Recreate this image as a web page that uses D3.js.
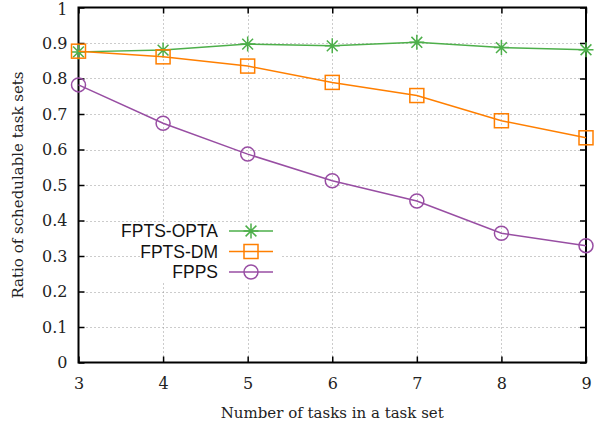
<!DOCTYPE html>
<html>
<head>
<meta charset="utf-8">
<script src="https://cdn.jsdelivr.net/npm/d3@7"></script>
<style>
  body { margin: 0; background: #fff; }
  svg { display: block; }
</style>
</head>
<body>
<svg width="594" height="430"></svg>
<script>
const tasks = [3, 4, 5, 6, 7, 8, 9];
const fptsOpta = [0.875, 0.880, 0.897, 0.892, 0.902, 0.887, 0.881];
const fptsDm = [0.877, 0.861, 0.835, 0.789, 0.752, 0.681, 0.633];
const fpps = [0.782, 0.674, 0.587, 0.512, 0.455, 0.364, 0.329];
const yTicks = [0, 0.1, 0.2, 0.3, 0.4, 0.5, 0.6, 0.7, 0.8, 0.9, 1];
const seriesNames = ["FPTS-OPTA", "FPTS-DM", "FPPS"];

const series = [
    { name: seriesNames[0], values: fptsOpta, color: "#4daf4a", marker: "star" },
    { name: seriesNames[1], values: fptsDm, color: "#ff7f00", marker: "square" },
    { name: seriesNames[2], values: fpps, color: "#984ea3", marker: "circle" }
];

const svg = d3.select("svg");
const area = { left: 78.5, right: 586, top: 7.5, bottom: 362.5 };
const serif = "'DejaVu Serif', serif";

const scX = d3.scaleLinear().domain([3, 9]).range([area.left, area.right]);
const scY = d3.scaleLinear().domain([0, 1]).range([area.bottom, area.top]);

// grid
const grid = svg.append("g").attr("stroke", "#999").attr("stroke-width", 1)
    .attr("stroke-dasharray", "1,3");
grid.selectAll(".gy").data(yTicks.slice(1, -1)).enter().append("line")
    .attr("x1", area.left).attr("x2", area.right)
    .attr("y1", d => Math.round(scY(d)) + 0.5).attr("y2", d => Math.round(scY(d)) + 0.5);
grid.selectAll(".gx").data(tasks.slice(1, -1)).enter().append("line")
    .attr("y1", area.top).attr("y2", area.bottom)
    .attr("x1", d => Math.round(scX(d)) + 0.5).attr("x2", d => Math.round(scX(d)) + 0.5);

// axes with inward ticks, mirrored
const tickLen = 6;
const axisLeft = svg.append("g").attr("transform", `translate(${area.left},0)`)
    .call(d3.axisLeft(scY).tickValues(yTicks).tickSize(-tickLen).tickPadding(11)
        .tickFormat(d => d === 0 || d === 1 ? d3.format("d")(d) : d3.format(".1f")(d)));
const axisRight = svg.append("g").attr("transform", `translate(${area.right},0)`)
    .call(d3.axisRight(scY).tickValues(yTicks).tickSize(-tickLen).tickFormat(""));
const axisBottom = svg.append("g").attr("transform", `translate(0,${area.bottom})`)
    .call(d3.axisBottom(scX).tickValues(tasks).tickSize(-tickLen).tickPadding(15)
        .tickFormat(d3.format("d")));
const axisTop = svg.append("g").attr("transform", `translate(0,${area.top})`)
    .call(d3.axisTop(scX).tickValues(tasks).tickSize(-tickLen).tickFormat(""));

[axisLeft, axisRight, axisBottom, axisTop].forEach(g => {
    g.attr("font-family", null).attr("font-size", null);
    g.select(".domain").remove();
    g.selectAll(".tick line").attr("stroke", "#000").attr("stroke-width", 1.5);
    g.selectAll("text").attr("fill", "#222").style("font-family", serif).style("font-size", "16px");
});
axisLeft.selectAll(".tick").filter(d => d === 1).select("text").attr("dy", "0.45em");

// frame
svg.append("rect")
    .attr("x", area.left).attr("y", area.top)
    .attr("width", area.right - area.left).attr("height", area.bottom - area.top)
    .attr("fill", "none").attr("stroke", "#000").attr("stroke-width", 2);

// axis titles
svg.append("text")
    .attr("x", (area.left + area.right) / 2).attr("y", 418)
    .attr("text-anchor", "middle")
    .style("font-family", serif).style("font-size", "15px").attr("fill", "#222")
    .text("Number of tasks in a task set");
svg.append("text")
    .attr("transform", `translate(23,${(area.top + area.bottom) / 2}) rotate(-90)`)
    .attr("text-anchor", "middle")
    .style("font-family", serif).style("font-size", "15px").attr("fill", "#222")
    .text("Ratio of schedulable task sets");

function drawMarker(g, type, color) {
    if (type === "star") {
        const s = 7.5;
        g.append("path")
            .attr("d", `M${-s},0H${s}M0,${-s}V${s}M${-s * 0.72},${-s * 0.72}L${s * 0.72},${s * 0.72}M${-s * 0.72},${s * 0.72}L${s * 0.72},${-s * 0.72}`)
            .attr("stroke", color).attr("stroke-width", 1.5).attr("fill", "none");
    } else if (type === "square") {
        g.append("rect").attr("x", -7).attr("y", -7).attr("width", 14).attr("height", 14)
            .attr("stroke", color).attr("stroke-width", 1.5).attr("fill", "none");
    } else {
        g.append("circle").attr("r", 7)
            .attr("stroke", color).attr("stroke-width", 1.5).attr("fill", "none");
    }
}

const line = d3.line().x((d, i) => scX(tasks[i])).y(d => scY(d));

series.forEach(s => {
    svg.append("path")
        .datum(s.values)
        .attr("d", line)
        .attr("fill", "none")
        .attr("stroke", s.color)
        .attr("stroke-width", 1.5);
    s.values.forEach((v, i) => {
        const g = svg.append("g").attr("transform", `translate(${scX(tasks[i])},${scY(v)})`);
        drawMarker(g, s.marker, s.color);
    });
});

// legend
const legend = svg.append("g");
legend.append("rect")
    .attr("x", 140).attr("y", 222).attr("width", 142).attr("height", 60)
    .attr("fill", "#fff");
series.forEach((s, i) => {
    const y = 231 + i * 20.5;
    legend.append("text")
        .attr("x", 218).attr("y", y).attr("dy", "0.35em")
        .attr("text-anchor", "end")
        .style("font-family", "'Liberation Sans', Arial, sans-serif").style("font-size", "17.5px")
        .attr("fill", "#111")
        .text(s.name);
    legend.append("line")
        .attr("x1", 229).attr("x2", 273).attr("y1", y).attr("y2", y)
        .attr("stroke", s.color).attr("stroke-width", 1.5);
    const g = legend.append("g").attr("transform", `translate(251,${y})`);
    drawMarker(g, s.marker, s.color);
});
</script>
</body>
</html>
